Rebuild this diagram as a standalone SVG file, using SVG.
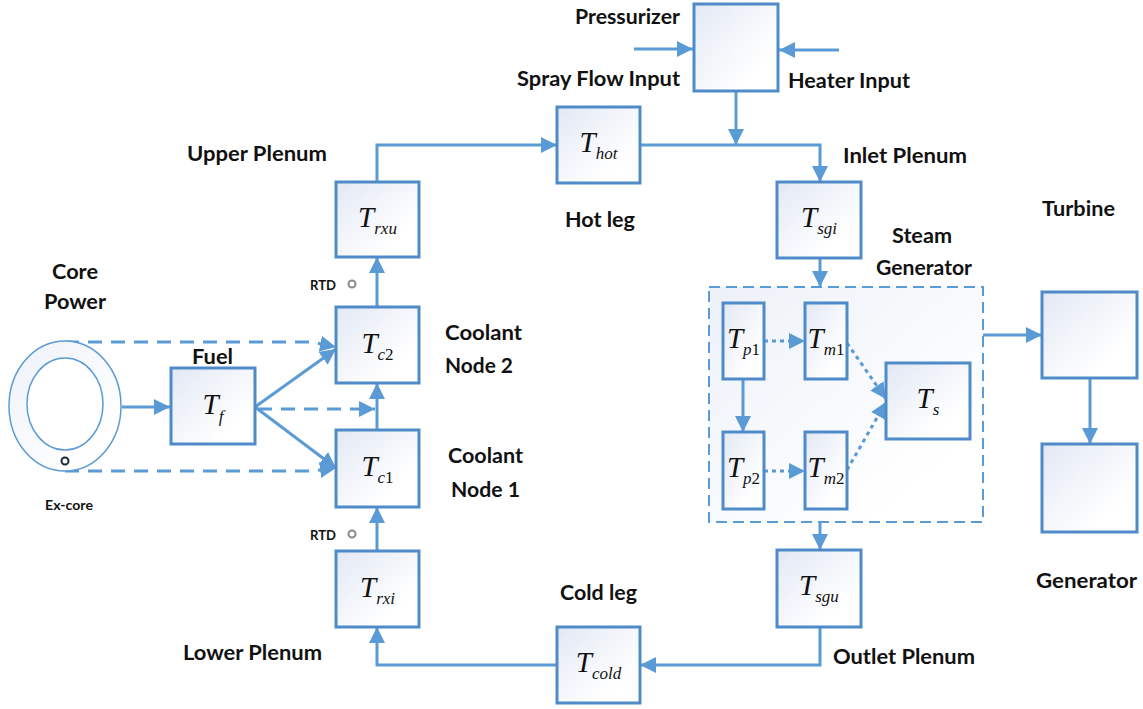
<svg xmlns="http://www.w3.org/2000/svg" width="1143" height="709" viewBox="0 0 1143 709">
<defs>
<linearGradient id="g" x1="0" y1="0" x2="1" y2="1">
<stop offset="0" stop-color="#e2e8f4"/>
<stop offset="0.75" stop-color="#ffffff"/>
</linearGradient>
<linearGradient id="g2" x1="0" y1="0" x2="1" y2="1">
<stop offset="0" stop-color="#edf1f8"/>
<stop offset="0.8" stop-color="#ffffff"/>
</linearGradient>
<marker id="a" markerUnits="userSpaceOnUse" markerWidth="17" markerHeight="16" refX="16" refY="8" orient="auto">
<path d="M0,0 L16,8 L0,16 z" fill="#5b9bd5"/>
</marker>
<style>
.box{fill:url(#g);stroke:#4f8bc9;stroke-width:3}
.c{fill:none;stroke:#5b9bd5;stroke-width:3}
.d{stroke-dasharray:14 9}
.dot{stroke-dasharray:4 4}
.arr{marker-end:url(#a)}
.lbl{font-family:Lato,"Open Sans","Liberation Sans",sans-serif;font-weight:700;font-size:21px;fill:#111}
.sm{font-family:Lato,"Open Sans","Liberation Sans",sans-serif;font-weight:700;font-size:13px;fill:#111}
.m{font-family:"Liberation Serif","Times New Roman",serif;font-style:italic;font-size:29px;fill:#111;text-anchor:middle}
.s{font-size:17px}
.u{font-style:normal}
</style>
</defs>
<rect width="1143" height="709" fill="#ffffff"/>

<g id="steam-generator-frame">
<rect x="709" y="287" width="274" height="235" fill="url(#g2)" stroke="#5b9bd5" stroke-width="2" stroke-dasharray="11 6"/>
</g>

<g id="connectors">
<path class="c arr" d="M122,407 H170"/>
<path class="c arr" d="M255,407 L336,349"/>
<path class="c arr" d="M255,407 L336,468"/>
<path class="c d arr" d="M65,342 H312 L336,347"/>
<path class="c d arr" d="M65,471 H312 L336,468"/>
<path class="c d arr" d="M258,409 H375"/>
<path class="c arr" d="M377,551 V507"/>
<path class="c arr" d="M377,430 V383"/>
<path class="c arr" d="M377,307 V257"/>
<path class="c arr" d="M377,182 V145 H557"/>
<path class="c arr" d="M640,145 H820 V182"/>
<path class="c arr" d="M736,91 V145"/>
<path class="c arr" d="M634,49 H693"/>
<path class="c arr" d="M839,50 H779"/>
<path class="c arr" d="M820,258 V287"/>
<path class="c arr" d="M820,522 V550"/>
<path class="c arr" d="M820,627 V665 H640"/>
<path class="c arr" d="M557,665 H377 V627"/>
<path class="c arr" d="M983,335 H1042"/>
<path class="c arr" d="M1090,378 V444"/>
<path class="c dot arr" d="M764,341 H805"/>
<path class="c dot arr" d="M764,471 H805"/>
<path class="c arr" d="M743,379 V432"/>
<path class="c dot arr" d="M847,343 L886,399"/>
<path class="c dot arr" d="M847,470 L886,402"/>
</g>

<g id="core">
<ellipse cx="65" cy="406" rx="56" ry="65" fill="url(#g2)" stroke="#5b9bd5" stroke-width="1.5"/>
<ellipse cx="65" cy="404" rx="38" ry="46" fill="#ffffff" stroke="#5b9bd5" stroke-width="1.5"/>
<circle cx="65" cy="461" r="3.5" fill="#ffffff" stroke="#1d2b3a" stroke-width="2"/>
<text class="lbl" x="52" y="279" textLength="46" lengthAdjust="spacingAndGlyphs">Core</text>
<text class="lbl" x="44" y="309" textLength="62" lengthAdjust="spacingAndGlyphs">Power</text>
<text class="sm" x="45" y="510" font-size="14" textLength="48" lengthAdjust="spacingAndGlyphs">Ex-core</text>
</g>

<g id="fuel">
<rect class="box" x="171" y="368" width="84" height="76"/>
<text class="lbl" x="192" y="364" textLength="41" lengthAdjust="spacingAndGlyphs">Fuel</text>
<text class="m" x="213" y="414">T<tspan class="s" dy="8">f</tspan></text>
</g>

<g id="lower-plenum">
<rect class="box" x="336" y="551" width="83" height="76"/>
<text class="m" x="377.5" y="597">T<tspan class="s" dy="7">rxi</tspan></text>
<text class="lbl" x="183" y="660" textLength="139" lengthAdjust="spacingAndGlyphs">Lower Plenum</text>
</g>

<g id="coolant-node-1">
<rect class="box" x="336" y="430" width="83" height="77"/>
<text class="m" x="377.5" y="476">T<tspan class="s" dy="7">c</tspan><tspan class="s u">1</tspan></text>
<text class="lbl" x="448" y="463" textLength="75" lengthAdjust="spacingAndGlyphs">Coolant</text>
<text class="lbl" x="451" y="497" textLength="69" lengthAdjust="spacingAndGlyphs">Node 1</text>
</g>

<g id="coolant-node-2">
<rect class="box" x="336" y="307" width="83" height="76"/>
<text class="m" x="377.5" y="353">T<tspan class="s" dy="7">c</tspan><tspan class="s u">2</tspan></text>
<text class="lbl" x="445" y="340" textLength="77" lengthAdjust="spacingAndGlyphs">Coolant</text>
<text class="lbl" x="445" y="373" textLength="68" lengthAdjust="spacingAndGlyphs">Node 2</text>
</g>

<g id="rtd-1">
<text class="sm" x="310" y="290" textLength="26" lengthAdjust="spacingAndGlyphs">RTD</text>
<circle cx="352" cy="284" r="3.5" fill="#ffffff" stroke="#8a8a8a" stroke-width="2"/>
</g>
<g id="rtd-2">
<text class="sm" x="310" y="540" textLength="26" lengthAdjust="spacingAndGlyphs">RTD</text>
<circle cx="352" cy="534" r="3.5" fill="#ffffff" stroke="#8a8a8a" stroke-width="2"/>
</g>

<g id="upper-plenum">
<rect class="box" x="336" y="182" width="83" height="75"/>
<text class="m" x="377.5" y="227">T<tspan class="s" dy="7">rxu</tspan></text>
<text class="lbl" x="187" y="161" textLength="140" lengthAdjust="spacingAndGlyphs">Upper Plenum</text>
</g>

<g id="hot-leg">
<rect class="box" x="557" y="107" width="83" height="76"/>
<text class="m" x="598.5" y="152">T<tspan class="s" dy="7">hot</tspan></text>
<text class="lbl" x="565" y="227" textLength="70" lengthAdjust="spacingAndGlyphs">Hot leg</text>
</g>

<g id="pressurizer">
<rect class="box" x="694" y="4" width="84" height="87"/>
<text class="lbl" x="575" y="24" textLength="105" lengthAdjust="spacingAndGlyphs">Pressurizer</text>
<text class="lbl" x="517" y="86" textLength="163" lengthAdjust="spacingAndGlyphs">Spray Flow Input</text>
<text class="lbl" x="788" y="88" textLength="122" lengthAdjust="spacingAndGlyphs">Heater Input</text>
</g>

<g id="inlet-plenum">
<rect class="box" x="777" y="182" width="84" height="76"/>
<text class="m" x="819" y="227">T<tspan class="s" dy="7">sgi</tspan></text>
<text class="lbl" x="843" y="163" textLength="124" lengthAdjust="spacingAndGlyphs">Inlet Plenum</text>
</g>

<g id="steam-generator">
<text class="lbl" x="892" y="243" textLength="60" lengthAdjust="spacingAndGlyphs">Steam</text>
<text class="lbl" x="876" y="275" textLength="96" lengthAdjust="spacingAndGlyphs">Generator</text>
</g>

<g id="tp1">
<rect class="box" x="723" y="303" width="41" height="76"/>
<text class="m" x="743.5" y="348">T<tspan class="s" dy="7">p</tspan><tspan class="s u">1</tspan></text>
</g>
<g id="tm1">
<rect class="box" x="805" y="303" width="42" height="76"/>
<text class="m" x="826" y="348">T<tspan class="s" dy="7">m</tspan><tspan class="s u">1</tspan></text>
</g>
<g id="tp2">
<rect class="box" x="723" y="432" width="41" height="77"/>
<text class="m" x="743.5" y="477">T<tspan class="s" dy="7">p</tspan><tspan class="s u">2</tspan></text>
</g>
<g id="tm2">
<rect class="box" x="805" y="432" width="42" height="77"/>
<text class="m" x="826" y="477">T<tspan class="s" dy="7">m</tspan><tspan class="s u">2</tspan></text>
</g>
<g id="ts">
<rect class="box" x="886" y="363" width="84" height="76"/>
<text class="m" x="928" y="408">T<tspan class="s" dy="7">s</tspan></text>
</g>

<g id="outlet-plenum">
<rect class="box" x="777" y="550" width="84" height="77"/>
<text class="m" x="819" y="595">T<tspan class="s" dy="7">sgu</tspan></text>
<text class="lbl" x="833" y="664" textLength="142" lengthAdjust="spacingAndGlyphs">Outlet Plenum</text>
</g>

<g id="cold-leg">
<rect class="box" x="557" y="627" width="83" height="76"/>
<text class="m" x="598.5" y="672">T<tspan class="s" dy="7">cold</tspan></text>
<text class="lbl" x="560" y="600" textLength="77" lengthAdjust="spacingAndGlyphs">Cold leg</text>
</g>

<g id="turbine">
<rect class="box" x="1042" y="292" width="95" height="86"/>
<text class="lbl" x="1042" y="216" textLength="73" lengthAdjust="spacingAndGlyphs">Turbine</text>
</g>

<g id="generator">
<rect class="box" x="1042" y="444" width="95" height="88"/>
<text class="lbl" x="1036" y="588" textLength="101" lengthAdjust="spacingAndGlyphs">Generator</text>
</g>
</svg>
